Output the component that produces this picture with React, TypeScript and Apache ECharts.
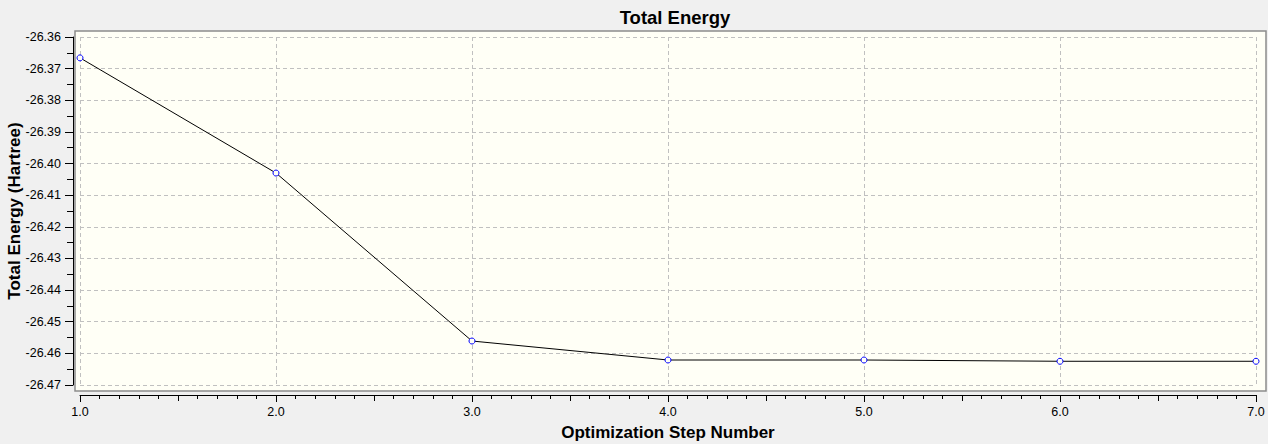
import React, { useEffect, useRef } from "react";
import * as echarts from "echarts";

const steps = [1, 2, 3, 4, 5, 6, 7];
const energies = [-26.3666, -26.403, -26.4561, -26.4621, -26.4621, -26.4625, -26.4625];
const titleText = "Total Energy";
const xName = "Optimization Step Number";
const yName = "Total Energy (Hartree)";

const FONT = "'Liberation Sans', Arial, sans-serif";

export default function App() {
  const ref = useRef<HTMLDivElement>(null);
  useEffect(() => {
    if (!ref.current) return;
    const chart = echarts.init(ref.current, undefined, { renderer: "svg" });
    const data = steps.map((s, i) => [s, energies[i]]);
    chart.setOption({
      animation: false,
      backgroundColor: "#f0f0f0",
      textStyle: { fontFamily: FONT },
      title: {
        text: titleText,
        left: 670,
        top: 3,
        textAlign: "center",
        textStyle: { fontFamily: FONT, fontSize: 18.5, fontWeight: "bold", color: "#000" },
      },
      graphic: [
        {
          type: "rect",
          z: -10,
          silent: true,
          shape: { x: 75, y: 31, width: 1191, height: 360 },
          style: { fill: "#fffff6", stroke: "#8c8c8c", lineWidth: 1.5 },
        },
      ],
      grid: {
        left: 80,
        right: 12,
        top: 37,
        bottom: 59,
        containLabel: false,
        outerBoundsMode: "none",
      },
      xAxis: [
        {
          type: "value",
          min: 1,
          max: 7,
          interval: 1,
          position: "bottom",
          offset: 10,
          name: xName,
          nameLocation: "middle",
          nameGap: 29,
          nameMoveOverlap: false,
          nameTextStyle: { fontFamily: FONT, fontSize: 17, fontWeight: "bold", color: "#000" },
          axisLine: { show: true, lineStyle: { color: "#000", width: 1 } },
          axisTick: { show: true, length: 7, lineStyle: { color: "#000" } },
          minorTick: { show: true, splitNumber: 10, length: 4, lineStyle: { color: "#000" } },
          axisLabel: {
            margin: 10,
            fontFamily: FONT,
            fontSize: 12.5,
            color: "#000",
            formatter: (v: number) => v.toFixed(1),
          },
          splitLine: { show: true, lineStyle: { color: "#c0c0c0", type: [4, 3], width: 1 } },
        },
        {
          type: "value",
          min: 1,
          max: 7,
          interval: 0.5,
          position: "bottom",
          offset: 10,
          axisLine: { show: false },
          axisTick: { show: true, length: 6, lineStyle: { color: "#000" } },
          axisLabel: { show: false },
          splitLine: { show: false },
        },
      ],
      yAxis: {
        type: "value",
        min: -26.47,
        max: -26.36,
        interval: 0.01,
        position: "left",
        offset: 7,
        name: yName,
        nameLocation: "middle",
        nameGap: 50,
        nameMoveOverlap: false,
        nameTextStyle: { fontFamily: FONT, fontSize: 17, fontWeight: "bold", color: "#000" },
        axisLine: { show: true, lineStyle: { color: "#000", width: 1 } },
        axisTick: { show: true, length: 8, lineStyle: { color: "#000" } },
        minorTick: { show: true, splitNumber: 2, length: 6, lineStyle: { color: "#000" } },
        axisLabel: {
          margin: 12,
          fontFamily: FONT,
          fontSize: 12.5,
          color: "#000",
          formatter: (v: number) => v.toFixed(2),
        },
        splitLine: { show: true, lineStyle: { color: "#c0c0c0", type: [4, 3], width: 1 } },
      },
      series: [
        {
          type: "line",
          data,
          symbol: "circle",
          symbolSize: 6,
          lineStyle: { color: "#000", width: 1 },
          itemStyle: { color: "#fffff6", borderColor: "#0000ff", borderWidth: 1 },
        },
      ],
    });
    return () => chart.dispose();
  }, []);
  return (
    <div
      ref={ref}
      style={{ position: "fixed", left: 0, top: 0, width: 1268, height: 444 }}
    />
  );
}
